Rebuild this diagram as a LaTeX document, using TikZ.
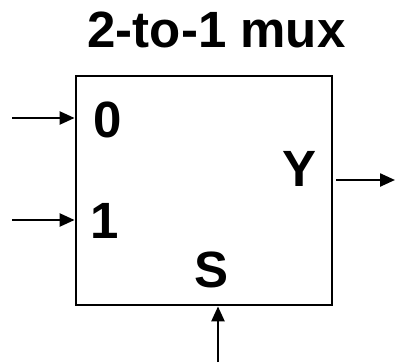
\documentclass[tikz,border=0pt]{standalone}
\usepackage{fontspec}
\setmainfont{Liberation Sans}
\usetikzlibrary{arrows.meta}
\tikzset{
  lbl/.style={inner sep=0pt, font=\fontsize{51}{54}\selectfont\bfseries},
  wire/.style={line width=2.4pt, -{Triangle[length=15pt,width=13pt]}},
  muxbox/.style={draw, line width=2.8pt, minimum width=256pt, minimum height=229pt, inner sep=0pt}
}
\begin{document}
\begin{tikzpicture}[x=1pt,y=-1pt]
\useasboundingbox (0,0) rectangle (396,362);
\node[muxbox] (mux) at (204,190.5) {};
\node[lbl] (title) at (216.5,30) {2-to-1 mux};
\node[lbl] (l0) at (107.5,120) {0};
\node[lbl] (l1) at (105,221) {1};
\node[lbl] (ly) at (300,168.5) {Y};
\node[lbl] (ls) at (211.5,270) {S};
\coordinate (i0) at (12,118);
\coordinate (i1) at (12,220);
\coordinate (yo0) at (336,180);
\coordinate (yo) at (395,180);
\coordinate (s0) at (218,362);
\draw[wire] (i0) -- (i0 -| mux.west);
\draw[wire] (i1) -- (i1 -| mux.west);
\draw[wire] (yo0) -- (yo);
\draw[wire] (s0) -- (s0 |- mux.south);
\end{tikzpicture}
\end{document}
